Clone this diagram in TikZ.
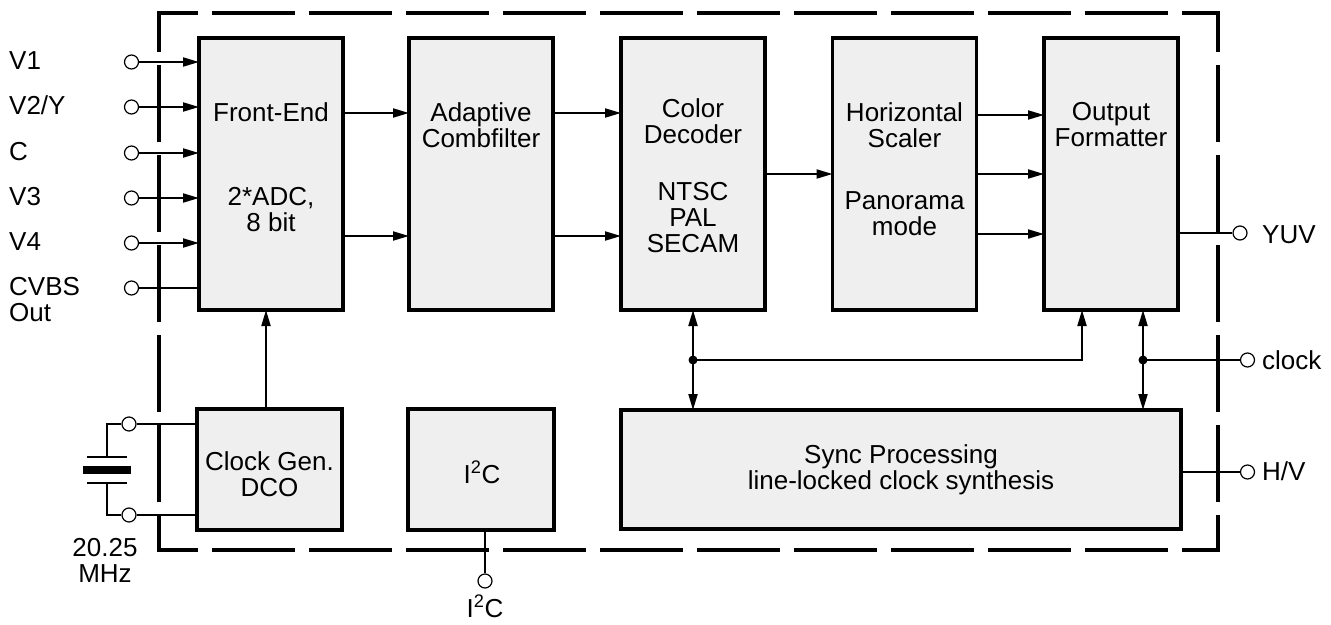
\documentclass[tikz,border=0pt]{standalone}
\usepackage{fontspec}
\setmainfont{Liberation Sans}
\usetikzlibrary{arrows.meta,calc}
\definecolor{boxfill}{HTML}{EFEFEF}
\begin{document}
\begin{tikzpicture}[x=1pt,y=-1pt,
  blk/.style={draw,line width=3.5pt,fill=boxfill,minimum width=144pt,minimum height=272pt,inner sep=0pt,outer sep=0pt},
  txt/.style={font=\fontsize{26}{26}\selectfont,align=center,inner sep=0pt},
  lbl/.style={font=\fontsize{26}{26}\selectfont,align=left,inner sep=0pt},
  pin/.style={circle,draw,fill=white,line width=1.2pt,minimum size=14pt,inner sep=0pt},
  wire/.style={line width=2pt},
  arr/.style={line width=2pt,-{Triangle[length=16pt,width=9pt]}},
  bord/.style={line width=3.5pt,line cap=rect}
]
\useasboundingbox (0,0) rectangle (1331,624);

% dashed outline
\draw[bord,dash pattern=on 79.5pt off 17.5pt,dash phase=42.25pt] (159,13) -- (1218,13);
\draw[bord,dash pattern=on 79.5pt off 17.5pt,dash phase=42.25pt] (159,550) -- (1218,550);
\draw[bord,dash pattern=on 73.5pt off 16.5pt,dash phase=36.25pt] (159,13) -- (159,550);
\draw[bord,dash pattern=on 73.5pt off 16.5pt,dash phase=36.25pt] (1218,13) -- (1218,550);

% blocks
\node[blk] (fe) at (271,174) {};
\node[blk] (comb) at (481,174) {};
\node[blk] (col) at (693,174) {};
\node[blk] (hs) at (904.5,174) {};
\node[blk,minimum width=134pt] (of) at (1111,174) {};
\node[blk,minimum width=145pt,minimum height=121pt] (cg) at (269.5,469.5) {};
\node[blk,minimum width=146pt,minimum height=121pt] (i2c) at (481,469.5) {};
\node[blk,minimum width=560pt,minimum height=119pt] (sync) at (901,469.5) {};

% block texts
\node[txt,anchor=north] (tfe1) at (271,102) {Front-End};
\node[txt,anchor=north] (tfe2) at (271,187) {2*ADC,\\8 bit};
\node[txt,anchor=north] (tcomb) at (481,102) {Adaptive\\Combfilter};
\node[txt,anchor=north] (tcol1) at (693,98) {Color\\Decoder};
\node[txt,anchor=north] (tcol2) at (693,182) {NTSC\\PAL\\SECAM};
\node[txt,anchor=north] (ths1) at (904.5,102) {Horizontal\\Scaler};
\node[txt,anchor=north] (ths2) at (904.5,191) {Panorama\\mode};
\node[txt,anchor=north] (tof) at (1111,102) {Output\\Formatter};
\node[txt,anchor=north] (tcg) at (269.5,451) {Clock Gen.\\DCO};
\node[txt,anchor=base] (ti2c) at (482,483) {I\textsuperscript{2}C};
\node[txt,anchor=north] (tsync) at (901,444) {Sync Processing\\line-locked clock synthesis};

% inputs
\node[pin] (i1) at (131.5,62) {};
\node[pin] (i2) at (131.5,107) {};
\node[pin] (i3) at (131.5,153) {};
\node[pin] (i4) at (131.5,198) {};
\node[pin] (i5) at (131.5,243) {};
\node[pin] (i6) at (131.5,288) {};
\node[lbl,anchor=base west] (l1) at (9,69) {V1};
\node[lbl,anchor=base west] (l2) at (9,114) {V2/Y};
\node[lbl,anchor=base west] (l3) at (9,160) {C};
\node[lbl,anchor=base west] (l4) at (9,205) {V3};
\node[lbl,anchor=base west] (l5) at (9,250) {V4};
\node[lbl,anchor=north west] (l6) at (9,277) {CVBS\\Out};
\draw[arr] (i1.east) -- (i1 -| fe.west);
\draw[arr] (i2.east) -- (i2 -| fe.west);
\draw[arr] (i3.east) -- (i3 -| fe.west);
\draw[arr] (i4.east) -- (i4 -| fe.west);
\draw[arr] (i5.east) -- (i5 -| fe.west);
\draw[wire] (i6.east) -- (i6 -| fe.west);

% data path
\coordinate (ya) at (0,113);
\coordinate (yb) at (0,236);
\coordinate (yc) at (0,174);
\coordinate (yd) at (0,115);
\coordinate (ye) at (0,234);
\draw[arr] (fe.east |- ya) -- (comb.west |- ya);
\draw[arr] (fe.east |- yb) -- (comb.west |- yb);
\draw[arr] (comb.east |- ya) -- (col.west |- ya);
\draw[arr] (comb.east |- yb) -- (col.west |- yb);
\draw[arr] (col.east |- yc) -- (hs.west |- yc);
\draw[arr] (hs.east |- yd) -- (of.west |- yd);
\draw[arr] (hs.east |- yc) -- (of.west |- yc);
\draw[arr] (hs.east |- ye) -- (of.west |- ye);

% outputs
\node[pin] (yuv) at (1240,233) {};
\node[pin] (clk) at (1247.5,360) {};
\node[pin] (hv) at (1247.5,472) {};
\node[lbl,anchor=base west] (lyuv) at (1262,243) {YUV};
\node[lbl,anchor=base west] (lclk) at (1262,369) {clock};
\node[lbl,anchor=base west] (lhv) at (1262,480) {H/V};
\draw[wire] (of.east |- yuv) -- (yuv.west);
\draw[wire] (sync.east |- hv) -- (hv.west);

% clock distribution
\coordinate (j1) at (693,360);
\coordinate (j2) at (1143,360);
\coordinate (k) at (1082,360);
\draw[arr] (j1) -- (col.south);
\draw[arr] (j1) -- (j1 |- sync.north);
\draw[arr] (j1) -- (k) -- (k |- of.south);
\draw[arr] (j2) -- (j2 |- of.south);
\draw[arr] (j2) -- (j2 |- sync.north);
\draw[wire] (j2) -- (clk.west);
\fill (j1) circle (4.5pt);
\fill (j2) circle (4.5pt);

% clock gen to front end
\coordinate (xg) at (266,0);
\draw[arr] (cg.north -| xg) -- (fe.south -| xg);

% crystal
\node[pin] (x1) at (129,424) {};
\node[pin] (x2) at (129,515) {};
\draw[wire] (x1.east) -- (x1 -| cg.west);
\draw[wire] (x2.east) -- (x2 -| cg.west);
\coordinate (xa) at (107,457);
\coordinate (xb) at (107,483);
\draw[wire] (x1.west) -| (xa);
\draw[wire] (x2.west) -| (xb);
\draw[line width=2.5pt] (87,457) -- (127,457);
\draw[line width=2.5pt] (87,483) -- (127,483);
\fill (83,466) rectangle (131,474);
\node[txt,anchor=north] (lxt) at (105,538) {20.25\\MHz};

% I2C pin
\node[pin] (ip) at (485,581) {};
\draw[wire] (ip |- i2c.south) -- (ip.north);
\node[txt,anchor=base] (lip) at (485,617) {I\textsuperscript{2}C};
\end{tikzpicture}
\end{document}
